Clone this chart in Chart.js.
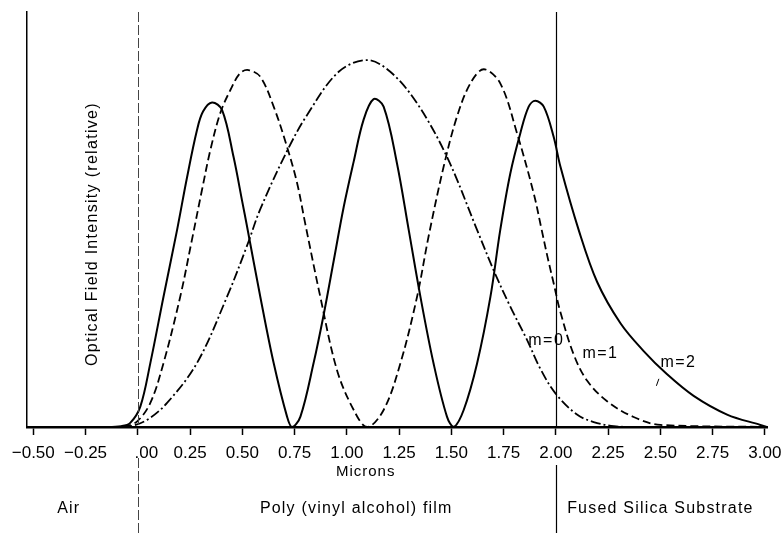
<!DOCTYPE html>
<html>
<head>
<meta charset="utf-8">
<script src="https://cdn.jsdelivr.net/npm/chart.js@4.4.1/dist/chart.umd.min.js"></script>
<style>
    html, body { margin: 0; padding: 0; background: #fff; }
    #wrap { width: 782px; height: 533px; }
</style>
</head>
<body>
<div id="wrap"><canvas id="modeChart"></canvas></div>
<script>
var tickValues = [-0.5, -0.25, 0, 0.25, 0.5, 0.75, 1, 1.25, 1.5, 1.75, 2, 2.25, 2.5, 2.75, 3];
var tickLabels = ['\u22120.50', '\u22120.25', '\u2003.00', '0.25', '0.50', '0.75', '1.00', '1.25',
    '1.50', '1.75', '2.00', '2.25', '2.50', '2.75', '3.00'];

// m = 0 (dash-dot)
var m0X = [-0.53, -0.12, -0.036, 0.044, 0.14, 0.283, 0.427, 0.525, 0.586, 0.714, 0.81, 0.961, 1.097,
    1.208, 1.336, 1.479, 1.623, 1.702, 1.782, 1.862, 1.926, 1.998, 2.101, 2.181, 2.277, 2.4, 3.01];
var m0Y = [0, 0, 0.002, 0.017, 0.058, 0.154, 0.314, 0.44, 0.525, 0.665, 0.752, 0.856, 0.884,
    0.856, 0.78, 0.651, 0.475, 0.378, 0.29, 0.21, 0.14, 0.081, 0.03, 0.012, 0.002, 0, 0];

// m = 1 (dashed)
var m1X = [-0.53, -0.12, -0.06, -0.004, 0.06, 0.123, 0.203, 0.259, 0.307, 0.347, 0.395, 0.443, 0.49,
    0.53, 0.586, 0.65, 0.714, 0.762, 0.801, 0.873, 0.953, 1.033, 1.097, 1.176, 1.256, 1.336, 1.391,
    1.463, 1.527, 1.591, 1.655, 1.734, 1.814, 1.894, 1.93, 1.96, 1.99, 2.02, 2.085, 2.149, 2.245,
    2.372, 2.5, 3.01];
var m1Y = [0, 0, 0.002, 0.013, 0.058, 0.154, 0.314, 0.451, 0.571, 0.667, 0.757, 0.812, 0.853,
    0.86, 0.844, 0.772, 0.675, 0.588, 0.49, 0.314, 0.137, 0.041, 0, 0.041, 0.153, 0.314, 0.459,
    0.627, 0.748, 0.828, 0.862, 0.828, 0.708, 0.563, 0.48, 0.41, 0.345, 0.28, 0.175, 0.112, 0.062,
    0.024, 0.005, 0];

// m = 2 (solid)
var m2X = [-0.53, -0.15, -0.08, -0.036, 0.012, 0.06, 0.123, 0.188, 0.235, 0.283, 0.312, 0.355, 0.403,
    0.458, 0.499, 0.522, 0.586, 0.65, 0.714, 0.738, 0.778, 0.841, 0.889, 0.937, 0.985, 1.033, 1.08,
    1.128, 1.176, 1.24, 1.296, 1.352, 1.415, 1.479, 1.511, 1.559, 1.623, 1.687, 1.734, 1.782, 1.83,
    1.87, 1.902, 1.942, 1.989, 2.022, 2.109, 2.197, 2.309, 2.42, 2.532, 2.659, 2.819, 2.978, 3.01];
var m2Y = [0, 0, 0.002, 0.01, 0.049, 0.154, 0.314, 0.475, 0.6, 0.715, 0.76, 0.782, 0.764,
    0.651, 0.545, 0.485, 0.314, 0.154, 0.025, 0, 0.025, 0.154, 0.27, 0.4, 0.53, 0.64, 0.74,
    0.79, 0.772, 0.635, 0.475, 0.314, 0.153, 0.025, 0, 0.041, 0.153, 0.314, 0.475, 0.611, 0.708,
    0.772, 0.786, 0.772, 0.7, 0.627, 0.475, 0.35, 0.25, 0.183, 0.127, 0.075, 0.03, 0.005, 0];

var boundaryX = [0, 2];
var regionNames = ['Air', 'Poly (vinyl alcohol) film', 'Fused Silica Substrate'];
var regionX = [-0.33, 1.045, 2.5];
var modeNames = ['m=0', 'm=1', 'm=2'];
var modeLabelX = [1.868, 2.127, 2.5];
var modeLabelY = [0.198, 0.166, 0.145];

var FONT = '"Liberation Sans", Arial, Helvetica, sans-serif';

function points(xs, ys) {
    return xs.map(function (x, i) { return { x: x, y: ys[i] }; });
}

var annotations = {
    id: 'annotations',
    afterDraw: function (chart) {
        var ctx = chart.ctx;
        var xs = chart.scales.x;
        var ys = chart.scales.y;
        var area = chart.chartArea;
        var H = chart.height;

        ctx.save();
        // layer boundaries
        boundaryX.forEach(function (v, i) {
            var px = Math.round(xs.getPixelForValue(v)) + 0.5;
            ctx.beginPath();
            if (i === 0) {
                ctx.setLineDash([10, 3]);
                ctx.strokeStyle = '#444';
                ctx.lineWidth = 1;
            } else {
                ctx.setLineDash([]);
                ctx.strokeStyle = '#000';
                ctx.lineWidth = 1.2;
            }
            ctx.moveTo(px, area.top);
            ctx.lineTo(px, area.bottom);
            ctx.moveTo(px, area.bottom + (i === 0 ? 31 : 38));
            ctx.lineTo(px, H);
            ctx.stroke();
        });
        ctx.setLineDash([]);

        ctx.fillStyle = '#000';
        ctx.letterSpacing = '1.2px';
        ctx.font = '16px ' + FONT;
        ctx.textAlign = 'center';
        ctx.textBaseline = 'alphabetic';
        regionNames.forEach(function (name, i) {
            ctx.fillText(name, xs.getPixelForValue(regionX[i]), area.bottom + 86);
        });

        ctx.letterSpacing = '1px';
        ctx.font = '15px ' + FONT;
        ctx.fillText('Microns', xs.getPixelForValue(1.09), area.bottom + 49);

        ctx.letterSpacing = '1.5px';
        ctx.font = '16px ' + FONT;
        ctx.textAlign = 'left';
        modeNames.forEach(function (name, i) {
            ctx.fillText(name, xs.getPixelForValue(modeLabelX[i]), ys.getPixelForValue(modeLabelY[i]));
        });
        // small leader under m=2
        var lx = xs.getPixelForValue(modeLabelX[2]);
        var ly = ys.getPixelForValue(modeLabelY[2]);
        ctx.beginPath();
        ctx.lineWidth = 1;
        ctx.strokeStyle = '#000';
        ctx.moveTo(lx - 4, ly + 19);
        ctx.lineTo(lx - 1.5, ly + 12);
        ctx.stroke();

        // y title inside the plot
        ctx.letterSpacing = '1.3px';
        ctx.translate(xs.getPixelForValue(-0.218), ys.getPixelForValue(0.465));
        ctx.rotate(-Math.PI / 2);
        ctx.textAlign = 'center';
        ctx.textBaseline = 'middle';
        ctx.fillText('Optical Field Intensity (relative)', 0, 0);
        ctx.restore();
    }
};

new Chart(document.getElementById('modeChart').getContext('2d'), {
    type: 'line',
    data: {
        datasets: [
            {
                label: 'm=0',
                data: points(m0X, m0Y),
                borderColor: '#000',
                borderWidth: 1.8,
                borderDash: [10, 3, 2, 3]
            },
            {
                label: 'm=1',
                data: points(m1X, m1Y),
                borderColor: '#000',
                borderWidth: 1.8,
                borderDash: [8, 4]
            },
            {
                label: 'm=2',
                data: points(m2X, m2Y),
                borderColor: '#000',
                borderWidth: 2
            }
        ]
    },
    options: {
        responsive: true,
        maintainAspectRatio: false,
        devicePixelRatio: 1,
        animation: false,
        layout: { padding: { left: 0, right: 15, top: 12, bottom: 0 } },
        elements: {
            point: { radius: 0 },
            line: { tension: 0.35, fill: false }
        },
        plugins: {
            legend: { display: false },
            tooltip: { enabled: false }
        },
        scales: {
            x: {
                type: 'linear',
                min: -0.53,
                max: 3.01,
                afterBuildTicks: function (axis) {
                    axis.ticks = tickValues.map(function (v) { return { value: v }; });
                },
                afterFit: function (axis) {
                    axis.height = 106;
                    axis.paddingLeft = 0;
                    axis.paddingRight = 0;
                },
                grid: {
                    drawOnChartArea: false,
                    drawTicks: true,
                    tickLength: 8,
                    tickWidth: 1.5,
                    tickColor: '#000'
                },
                border: { display: true, color: '#000', width: 2.5 },
                ticks: {
                    autoSkip: false,
                    maxRotation: 0,
                    padding: 8,
                    color: '#000',
                    font: { family: FONT, size: 17 },
                    callback: function (value, index) { return tickLabels[index]; }
                }
            },
            y: {
                min: 0,
                max: 1,
                afterFit: function (axis) { axis.width = 27; },
                grid: { display: false },
                border: { display: true, color: '#000', width: 1.5 },
                ticks: { display: false }
            }
        }
    },
    plugins: [annotations]
});
</script>
</body>
</html>
